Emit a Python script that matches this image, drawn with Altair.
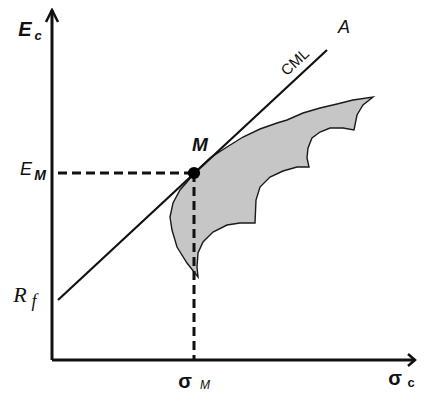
import altair as alt
import pandas as pd

# ---- data (diagram units: sigma on x, expected return on y) ----
axis_x0 = [0.0, 0.0]
axis_x1 = [0.0, 36.3]
axis_y0 = [0.0, 0.0]
axis_y1 = [35.0, 0.0]

arrow_id = [0, 0, 0, 1, 1, 1]
arrow_x = [-0.6, 0.0, 0.6, 35.6, 36.3, 35.6]
arrow_y = [33.8, 35.0, 33.8, 0.6, 0.0, -0.6]

cml_x = [0.6, 27.5]
cml_y = [6.0, 31.0]

m_x = [14.2]
m_y = [18.7]

dash_id = [0, 0, 1, 1]
dash_x = [0.6, 14.2, 14.2, 14.2]
dash_y = [18.7, 18.7, 18.7, 0.0]

region_x = [14.3, 15.8, 17.5, 19.1, 20.8, 22.5, 23.5, 25.1, 26.8, 28.5, 30.1, 32.1,
            31.1, 30.5, 30.2, 29.1, 27.8, 26.8, 26.0, 25.6, 25.5, 25.7,
            24.5, 23.1, 21.8, 20.8, 20.4, 20.3, 18.8, 17.5, 16.1, 15.1, 14.6,
            14.5, 14.6, 13.5, 12.5, 12.0, 11.8, 12.1, 12.8, 13.5, 14.3]
region_y = [18.8, 20.2, 21.3, 22.3, 23.1, 23.7, 24.0, 24.7, 25.2, 25.6, 26.0, 26.3,
            25.5, 24.5, 23.0, 23.2, 23.2, 22.8, 22.2, 21.2, 20.2, 19.3,
            19.3, 18.9, 18.3, 17.3, 16.0, 13.7, 13.7, 13.5, 12.8, 11.8, 10.7,
            9.3, 8.3, 9.7, 11.3, 13.0, 14.3, 15.7, 17.0, 17.8, 18.8]

XS = alt.Scale(domain=[-4.4, 36.5], nice=False, zero=False)
YS = alt.Scale(domain=[-3.3, 35.2], nice=False, zero=False)


def X(f="x"):
    return alt.X(f"{f}:Q", scale=XS, axis=None)


def Y(f="y"):
    return alt.Y(f"{f}:Q", scale=YS, axis=None)


region_df = pd.DataFrame({"x": region_x, "y": region_y, "i": range(len(region_x))})
region = alt.Chart(region_df).mark_line(
    fill="#c6c6c6", stroke="#1a1a1a", strokeWidth=1.4, interpolate="linear"
).encode(x=X(), y=Y(), order="i:Q")

axes_df = pd.DataFrame({"x": axis_x0, "x2": axis_x1, "y": axis_y0, "y2": axis_y1})
axes = alt.Chart(axes_df).mark_rule(color="#111", strokeWidth=3).encode(
    x=X(), x2="x2:Q", y=Y(), y2="y2:Q"
)

arrow_df = pd.DataFrame({"g": arrow_id, "x": arrow_x, "y": arrow_y, "i": range(len(arrow_x))})
arrows = alt.Chart(arrow_df).mark_line(color="#111", strokeWidth=2.5).encode(
    x=X(), y=Y(), detail="g:N", order="i:Q"
)

cml_df = pd.DataFrame({"x": cml_x, "y": cml_y})
cml = alt.Chart(cml_df).mark_line(color="#111", strokeWidth=2.2).encode(x=X(), y=Y())

dash_df = pd.DataFrame({"g": dash_id, "x": dash_x, "y": dash_y, "i": range(len(dash_x))})
dashes = alt.Chart(dash_df).mark_line(
    color="#111", strokeWidth=3, strokeDash=[9, 5]
).encode(x=X(), y=Y(), detail="g:N", order="i:Q")

m_df = pd.DataFrame({"x": m_x, "y": m_y})
mpt = alt.Chart(m_df).mark_circle(color="#000", opacity=1, size=150).encode(x=X(), y=Y())

# labels: text, x, y
lab_text = ["E", "c", "E", "M", "R", "f", "σ", "M", "σ", "c", "CML", "A", "M"]
lab_x = [-2.7, -1.4, -2.6, -1.2, -3.2, -1.8, 13.3, 15.3, 34.3, 35.9, 24.3, 29.2, 14.8]
lab_y = [33.0, 32.4, 19.0, 18.4, 6.5, 5.8, -2.2, -2.5, -1.9, -2.3, 29.8, 33.2, 21.5]


def label(idx, **kw):
    d = pd.DataFrame({"x": [lab_x[idx]], "y": [lab_y[idx]], "t": [lab_text[idx]]})
    base = dict(align="center", baseline="middle", color="#111")
    base.update(kw)
    return alt.Chart(d).mark_text(**base).encode(x=X(), y=Y(), text="t:N")


SANS = "Liberation Sans"
SERIF = "Liberation Serif"
labels = [
    label(0, font=SANS, fontSize=20, fontWeight="bold", fontStyle="italic"),
    label(1, font=SANS, fontSize=13, fontWeight="bold", fontStyle="italic"),
    label(2, font=SANS, fontSize=18, fontStyle="italic"),
    label(3, font=SANS, fontSize=14, fontWeight="bold", fontStyle="italic"),
    label(4, font=SERIF, fontSize=22, fontStyle="italic"),
    label(5, font=SERIF, fontSize=18, fontStyle="italic"),
    label(6, font=SANS, fontSize=20, fontWeight="bold"),
    label(7, font=SANS, fontSize=12, fontStyle="italic"),
    label(8, font=SANS, fontSize=20, fontWeight="bold"),
    label(9, font=SANS, fontSize=13, fontWeight="bold"),
    label(10, font=SANS, fontSize=15, angle=317),
    label(11, font=SANS, fontSize=18, fontStyle="italic"),
    label(12, font=SANS, fontSize=19, fontWeight="bold", fontStyle="italic"),
]

chart = alt.layer(region, axes, arrows, cml, dashes, mpt, *labels).properties(
    width=409, height=385, padding=0,
    autosize=alt.AutoSizeParams(type="none"),
).configure_view(stroke=None)

chart.save("out.html", embed_options={"renderer": "svg", "actions": False})
